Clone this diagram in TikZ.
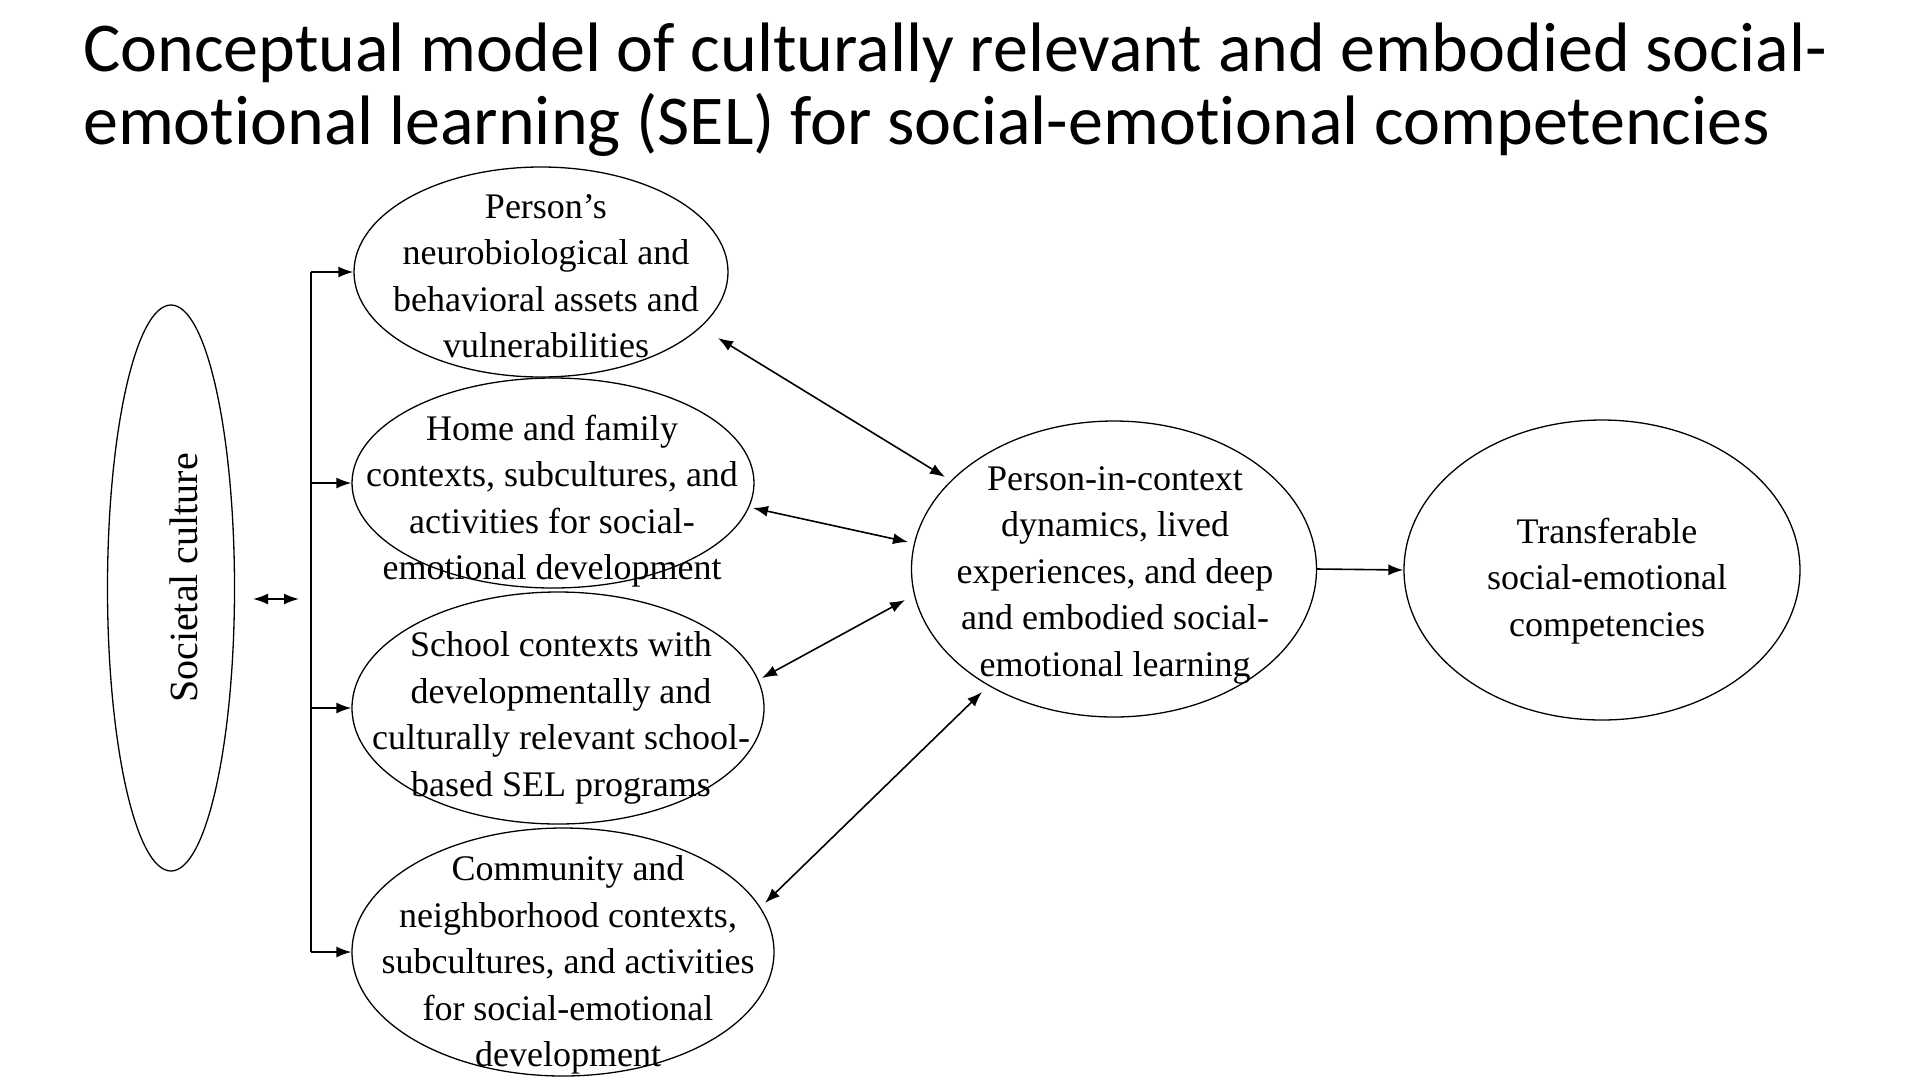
\documentclass[tikz,border=0pt]{standalone}
\usepackage{fontspec}
\setmainfont{Liberation Serif}
\newfontfamily\titlefont[Ligatures=NoCommon]{Carlito}
\usetikzlibrary{shapes.geometric,arrows.meta,calc}
\begin{document}
\begin{tikzpicture}[x=1pt,y=-1pt,
  ell/.style={draw, ellipse, line width=1.3pt, inner sep=0pt},
  txt/.style={align=center, font=\fontsize{36}{46.5}\selectfont, inner sep=0pt},
  con/.style={line width=1.6pt, {Latex[length=15pt,width=11pt]}-{Latex[length=15pt,width=11pt]}},
  one/.style={line width=1.6pt, -{Latex[length=15pt,width=11pt]}},
  ttl/.style={anchor=base west, inner sep=0pt, font=\titlefont\fontsize{70}{80}\selectfont}
]
\useasboundingbox (0,0) rectangle (1920,1080);
\fill[white] (0,0) rectangle (1920,1080);

% title
\node[ttl] (t1) at (83,71) {Conceptual model of culturally relevant and embodied social-};
\node[ttl] (t2) at (83,144) {emotional learning (SEL) for social-emotional competencies};

% societal culture
\node[ell, minimum width=127pt, minimum height=566pt] (sc) at (171,588) {};
\node[txt, font=\fontsize{40}{46}\selectfont, rotate=90] (sct) at (184,578) {Societal culture};

% left ellipses
\node[ell, minimum width=374pt, minimum height=210pt] (e1) at (541,272) {};
\node[txt] (e1t) at (546,276) {Person’s\\neurobiological and\\behavioral assets and\\vulnerabilities};

\node[ell, minimum width=402pt, minimum height=210pt] (e2) at (553,483) {};
\node[txt] (e2t) at (552,501) {Home and family\\contexts, subcultures, and\\activities for social-\\emotional development};

\node[ell, minimum width=412pt, minimum height=232pt] (e3) at (558,708) {};
\node[txt] (e3t) at (561,718) {School contexts with\\developmentally and\\culturally relevant school-\\based SEL programs};

\node[ell, minimum width=422pt, minimum height=248pt] (e4) at (563,952) {};
\node[txt] (e4t) at (568,965) {Community and\\neighborhood contexts,\\subcultures, and activities\\for social-emotional\\development};

% center and right
\node[ell, minimum width=405pt, minimum height=296pt] (ctr) at (1114,569) {};
\node[txt] (ctrt) at (1115,575) {Person-in-context\\dynamics, lived\\experiences, and deep\\and embodied social-\\emotional learning};

\node[ell, minimum width=396pt, minimum height=300pt] (rt) at (1602,570) {};
\node[txt] (rtt) at (1607,581) {Transferable\\social-emotional\\competencies};

% bracket
\coordinate (bx) at (311,0);
\draw[line width=1.8pt] (bx |- e1.west) -- (bx |- e4.west);
\draw[one] (bx |- e1.west) -- (e1.west);
\draw[one] (bx |- e2.west) -- (e2.west);
\draw[one] (bx |- e3.west) -- (e3.west);
\draw[one] (bx |- e4.west) -- (e4.west);

% small double arrow
\coordinate (dl) at (253,599);
\coordinate (dr) at (299,599);
\draw[con] (dl) -- (dr);

% connectors to center
\draw[con] ($(e1)+(177,66)$) -- ($(ctr)+(-169,-92)$);
\draw[con] ($(e2)+(200,25)$) -- ($(ctr)+(-206,-27)$);
\draw[con] ($(e3)+(204,-30)$) -- ($(ctr)+(-209,31)$);
\draw[con] ($(e4)+(202,-49)$) -- ($(ctr)+(-132,123)$);

\draw[one] (ctr.east) -- (rt.west);
\end{tikzpicture}
\end{document}
